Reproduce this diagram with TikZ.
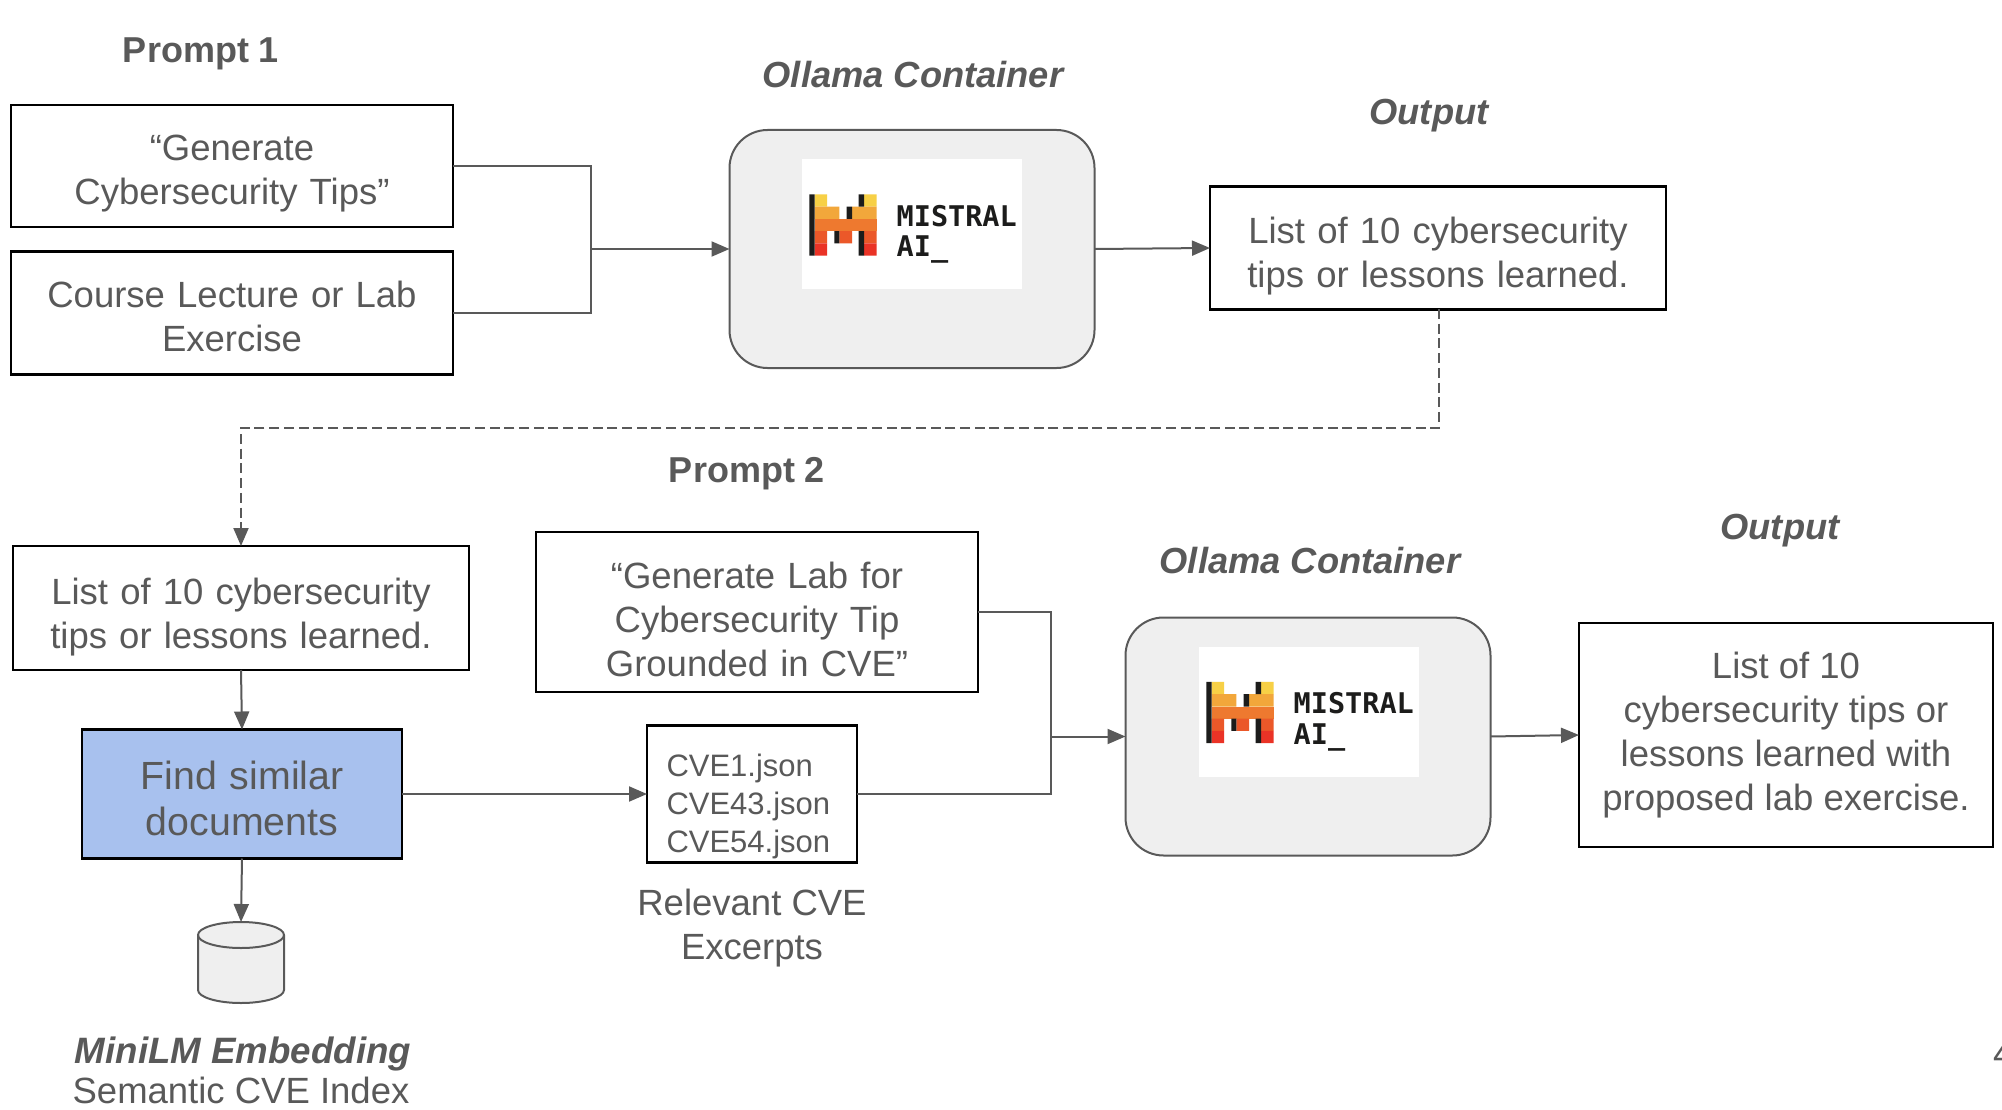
\documentclass[tikz,border=0pt]{standalone}
\usepackage{fontspec}
\setmainfont{Liberation Sans}
\newfontfamily\logofont{DejaVu Sans Mono}
\usetikzlibrary{arrows.meta}
\definecolor{ink}{HTML}{595959}
\definecolor{shell}{HTML}{EFEFEF}
\definecolor{findblue}{HTML}{A8C1EE}
\definecolor{logoblack}{HTML}{1C1C1B}
\definecolor{logoa}{HTML}{F7D046}
\definecolor{logob}{HTML}{F2A73B}
\definecolor{logoc}{HTML}{EE792F}
\definecolor{logod}{HTML}{EB5829}
\definecolor{logoe}{HTML}{EA3326}
\tikzset{
    x=1pt,y=-1pt,
    every node/.style={text=ink,font=\fontsize{36.5}{44}\selectfont,inner sep=0pt,outer sep=0pt},
    txtbox/.style={draw=black,line width=2.2pt,align=center},
    drop/.style={text width=400pt,execute at begin node={\rule{0pt}{#1pt}}},
    shellbox/.style={draw=ink,fill=shell,line width=2pt,rounded corners=38pt,minimum width=365pt,minimum height=238pt},
    title/.style={font=\fontsize{36}{42}\selectfont\bfseries},
    titleit/.style={font=\fontsize{36.3}{42}\selectfont\bfseries\itshape},
    link/.style={draw=ink,line width=2pt},
    arrow/.style={link,-{Triangle[length=18pt,width=15pt]}},
    mistral/.pic={
        \fill[white] (0,0) rectangle (220,130);
        \fill[logoa] (12.7,35.3) rectangle (25,47.7) (62,35.3) rectangle (74.7,47.7);
        \fill[logob] (12.7,47.7) rectangle (37.3,60) (50,47.7) rectangle (74.7,60);
        \fill[logoc] (12.7,60) rectangle (74.7,72);
        \fill[logod] (12.7,72) rectangle (25,84.3) (37.3,72) rectangle (50,84.3) (62,72) rectangle (74.7,84.3);
        \fill[logoe] (12.7,84.3) rectangle (25,96.7) (62,84.3) rectangle (74.7,96.7);
        \fill[logoblack] (7.3,35.3) rectangle (12.7,96.7) (56.7,35.3) rectangle (62,47.7)
            (44.7,47.7) rectangle (50,60) (32.3,72) rectangle (37.3,84.3) (56.7,72) rectangle (62,96.7);
        \node[anchor=base west,text=logoblack,font=\fontsize{28.5}{30}\selectfont\logofont\bfseries] (name) at (94.7,67) {MISTRAL};
        \node[anchor=base west,text=logoblack,font=\fontsize{28.5}{30}\selectfont\logofont\bfseries] (sub) at (94.7,97.7) {AI\_};
    }
}
\begin{document}
\begin{tikzpicture}
    \useasboundingbox (0,0) rectangle (2002,1110);
    % first run
    \node[title] (prompta) at (201,54) {Prompt 1};
    \node[txtbox,drop=40,minimum width=442pt,minimum height=122pt] (gen) at (232,166) {“Generate\\Cybersecurity Tips”};
    \node[txtbox,drop=33,minimum width=442pt,minimum height=123pt] (course) at (232,313) {Course Lecture or Lab\\Exercise};
    \node[titleit] (ollamaa) at (913,75) {Ollama Container};
    \node[shellbox] (conta) at (912,249) {};
    \pic (logoone) at (802,159) {mistral};
    \node[titleit] (outa) at (1429,116) {Output};
    \node[txtbox,drop=42,minimum width=456pt,minimum height=123pt] (lista) at (1438,248) {List of 10 cybersecurity\\tips or lessons learned.};
    \coordinate (joina) at (591,249);
    \draw[link] (gen.east) -| (joina);
    \draw[link] (course.east) -| (joina);
    \draw[arrow] (joina) -- (conta.west);
    \draw[arrow] (conta.east) -- (lista.west);
    % second run
    \node[txtbox,drop=44,minimum width=456pt,minimum height=124pt] (listb) at (241,608) {List of 10 cybersecurity\\tips or lessons learned.};
    \coordinate (dashtop) at (1439,309);
    \draw[arrow,dash pattern=on 10pt off 4.7pt] (dashtop) -- (1439,428) -- (241,428) -- (listb.north);
    \node[title] (promptb) at (747,474) {Prompt 2};
    \node[txtbox,drop=41,minimum width=442pt,minimum height=160pt] (genlab) at (757,612) {“Generate Lab for\\Cybersecurity Tip\\Grounded in CVE”};
    \node[txtbox,drop=37,text width=300pt,fill=findblue,minimum width=320pt,minimum height=129pt,font=\fontsize{39.3}{46.5}\selectfont] (find) at (242,794) {Find similar\\documents};
    \node[txtbox,drop=48,minimum width=210pt,minimum height=137pt,font=\fontsize{31}{38}\selectfont,text width=171pt,align=left] (cve) at (752,794) {CVE1.json\\CVE43.json\\CVE54.json};
    \node[align=center] (excerpts) at (752,928) {Relevant CVE\\Excerpts};
    \node[titleit] (ollamab) at (1310,561) {Ollama Container};
    \node[shellbox] (contb) at (1308,736.5) {};
    \pic (logotwo) at (1199,646.5) {mistral};
    \node[titleit] (outb) at (1780,531) {Output};
    \node[txtbox,minimum width=414pt,minimum height=224pt] (listc) at (1786,735) {List of 10\\cybersecurity tips or\\lessons learned with\\proposed lab exercise.};
    \coordinate (indextop) at (241,922);
    \draw[link,fill=shell] (198,935) arc [start angle=180,end angle=0,x radius=43pt,y radius=13pt] -- (284,990)
        arc [start angle=0,end angle=-180,x radius=43pt,y radius=13pt] -- cycle;
    \draw[link] (198,935) arc [start angle=180,end angle=360,x radius=43pt,y radius=13pt];
    \node[titleit,font=\fontsize{36.7}{42}\selectfont\bfseries\itshape] (minilm) at (243,1054) {MiniLM Embedding};
    \node (semantic) at (241,1090) {Semantic CVE Index};
    \node[anchor=base west] (pagenum) at (1993,1066) {4};
    \coordinate (joinb) at (1051,736.5);
    \draw[arrow] (listb.south) -- (find.north);
    \draw[arrow] (find.east) -- (cve.west);
    \draw[arrow] (find.south) -- (indextop);
    \draw[link] (genlab.east) -| (joinb);
    \draw[link] (cve.east) -| (joinb);
    \draw[arrow] (joinb) -- (contb.west);
    \draw[arrow] (contb.east) -- (listc.west);
\end{tikzpicture}
\end{document}
